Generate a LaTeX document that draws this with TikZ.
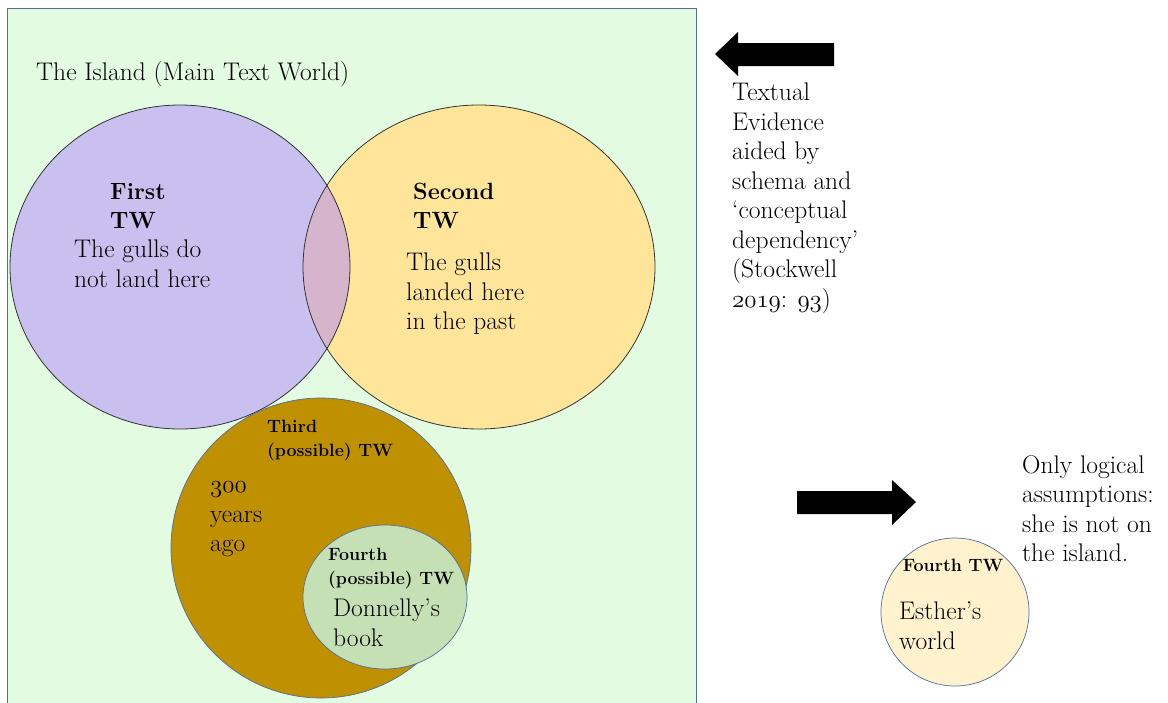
\documentclass[tikz,border=0pt]{standalone}
\usepackage{fontspec}
\definecolor{islandgreen}{RGB}{227,252,225}
\definecolor{edgeblue}{RGB}{80,110,160}
\definecolor{firstpurple}{RGB}{201,192,240}
\definecolor{secondyellow}{RGB}{255,229,154}
\definecolor{overlap}{RGB}{214,181,204}
\definecolor{thirdbrown}{RGB}{191,144,0}
\definecolor{fourthgreen}{RGB}{197,224,180}
\definecolor{esthercream}{RGB}{255,242,204}
\newcommand{\osn}[1]{$\mathnormal{#1}$}
\begin{document}
\begin{tikzpicture}[x=1pt,y=-1pt,
  txt/.style={inner sep=0pt, anchor=north west, align=left,
    font=\fontsize{25.5}{29.5}\selectfont},
  head/.style={txt, font=\fontsize{23.5}{29}\selectfont\bfseries},
  smallhead/.style={txt, font=\fontsize{17.8}{23.5}\selectfont\bfseries},
  worldedge/.style={draw=black!80, line width=0.8pt},
  subedge/.style={draw=edgeblue, line width=0.7pt},
  bigarrow/.style={fill=black}]
\useasboundingbox (0,0) rectangle (1168,702);
\fill[white] (0,0) rectangle (1168,702);

% main text world
\draw[fill=islandgreen, draw=edgeblue, line width=0.7pt] (7,8) rectangle (696,712);

% first and second text worlds with their overlap
\fill[firstpurple] (180,267) ellipse [x radius=170, y radius=162];
\fill[secondyellow] (479,267) ellipse [x radius=176, y radius=162];
\begin{scope}
  \clip (180,267) ellipse [x radius=170, y radius=162];
  \fill[overlap] (479,267) ellipse [x radius=176, y radius=162];
\end{scope}
\draw[worldedge] (180,267) ellipse [x radius=170, y radius=162];
\draw[worldedge] (479,267) ellipse [x radius=176, y radius=162];

% third and fourth (possible) text worlds
\draw[subedge, fill=thirdbrown] (321,548) circle [radius=150];
\draw[subedge, fill=fourthgreen] (385,597) ellipse [x radius=82, y radius=72];

% Esther's world
\draw[subedge, fill=esthercream] (955,612) circle [radius=74];

% arrows
\fill[bigarrow] (834,43) -- (738,43) -- (738,32) -- (715,54) -- (738,76)
  -- (738,66) -- (834,66) -- cycle;
\fill[bigarrow] (797,491) -- (892,491) -- (892,480) -- (916,502) -- (892,525)
  -- (892,514) -- (797,514) -- cycle;

% labels
\node[txt] (island) at (36,61) {The Island (Main Text World)};
\node[head] (firsttw) at (110,183) {First\\TW};
\node[txt] (firsttxt) at (74,240) {The gulls do\\not land here};
\node[head] (secondtw) at (413,183) {Second\\TW};
\node[txt] (secondtxt) at (406,253) {The gulls\\landed here\\in the past};
\node[smallhead] (thirdtw) at (267,420) {Third\\(possible) TW};
\node[txt] (thirdtxt) at (210,482) {\osn{300}\\years\\ago};
\node[smallhead] (fourthtw) at (328,548) {Fourth\\(possible) TW};
\node[txt] (fourthtxt) at (333,599) {Donnelly’s\\book};
\node[txt] (evidence) at (732,83) {Textual\\Evidence\\aided by\\schema and\\‘conceptual\\dependency’\\(Stockwell\\\osn{2019}: \osn{93})};
\node[txt] (logic) at (1022,455) {Only logical\\assumptions:\\she is not on\\the island.};
\node[smallhead, anchor=center] (esthertw) at (953,565) {Fourth TW};
\node[txt] (esthertxt) at (899,602) {Esther’s\\world};
\end{tikzpicture}
\end{document}
